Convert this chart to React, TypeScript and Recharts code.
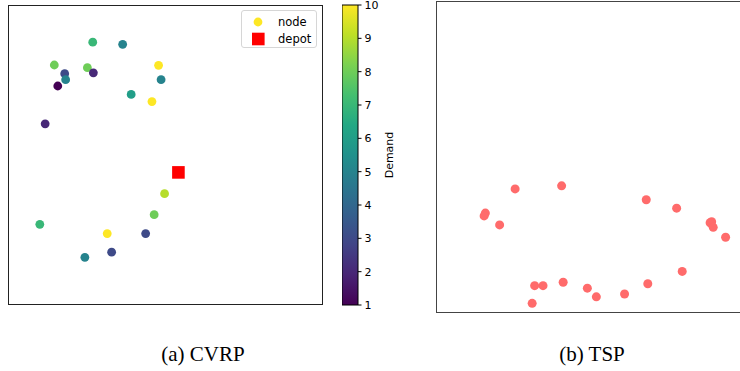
import { ScatterChart, Scatter, BarChart, Bar, XAxis, YAxis } from 'recharts'

// CVRP instance (normalised coordinates), demand per node
const cvrpX = [0.269, 0.364, 0.147, 0.252, 0.478, 0.180, 0.271, 0.183, 0.486, 0.158, 0.391, 0.457, 0.118, 0.497, 0.464, 0.101, 0.315, 0.437, 0.329, 0.244]
const cvrpY = [0.876, 0.869, 0.800, 0.791, 0.799, 0.771, 0.774, 0.751, 0.751, 0.730, 0.702, 0.678, 0.604, 0.371, 0.301, 0.269, 0.238, 0.238, 0.176, 0.159]
const demand = [7, 5, 8, 8, 10, 3, 2, 5, 5, 1, 6, 10, 2, 9, 8, 7, 10, 3, 3, 5]
const depotX = [0.541]
const depotY = [0.442]

// TSP instance
const tspX = [0.252, 0.402, 0.156, 0.152, 0.202, 0.675, 0.773, 0.886, 0.881, 0.891, 0.931, 0.791, 0.680, 0.605, 0.514, 0.485, 0.407, 0.342, 0.315, 0.307]
const tspY = [0.397, 0.407, 0.319, 0.310, 0.281, 0.362, 0.335, 0.291, 0.288, 0.273, 0.241, 0.131, 0.091, 0.058, 0.049, 0.077, 0.096, 0.085, 0.085, 0.028]

const demandTicks = [1, 2, 3, 4, 5, 6, 7, 8, 9, 10]
const legendItems = ['node', 'depot']
const captions = ['(a) CVRP', '(b) TSP']

const viridis = ['#440154', '#482475', '#414487', '#355f8d', '#2a788e', '#21918c', '#22a884', '#44bf70', '#7ad151', '#bddf26', '#fde725']

function hexToRgb(h: string) {
  return [1, 3, 5].map(i => parseInt(h.slice(i, i + 2), 16))
}

function viridisColor(v: number) {
  const t = Math.max(0, Math.min(1, (v - 1) / 9)) * 10
  const i = Math.min(9, Math.floor(t))
  const f = t - i
  const a = hexToRgb(viridis[i])
  const b = hexToRgb(viridis[i + 1])
  const c = a.map((x, k) => Math.round(x + (b[k] - x) * f))
  return `rgb(${c[0]},${c[1]},${c[2]})`
}

const nodes = cvrpX.map((x, i) => ({ x, y: cvrpY[i], demand: demand[i] }))
const depot = depotX.map((x, i) => ({ x, y: depotY[i] }))
const tspNodes = tspX.map((x, i) => ({ x, y: tspY[i] }))
const barData = [{ k: 'c', range: [demandTicks[0], demandTicks[demandTicks.length - 1]] }]

const sans = 'DejaVu Sans'

export default function App() {
  return (
    <div style={{ position: 'absolute', left: 0, top: 0, width: 740, height: 371, overflow: 'hidden', background: '#fff' }}>
      {/* CVRP scatter */}
      <div style={{ position: 'absolute', left: 8, top: 5 }}>
        <ScatterChart width={315} height={300} margin={{ top: 0, right: 0, bottom: 0, left: 0 }}>
          <XAxis type="number" dataKey="x" domain={[0, 1]} hide />
          <YAxis type="number" dataKey="y" domain={[0, 1]} hide />
          <Scatter
            data={nodes}
            isAnimationActive={false}
            shape={(p: any) => <circle cx={p.cx} cy={p.cy} r={4.4} fill={viridisColor(p.payload.demand)} />}
          />
          <Scatter
            data={depot}
            isAnimationActive={false}
            shape={(p: any) => <rect x={p.cx - 6.3} y={p.cy - 6.3} width={12.6} height={12.6} fill="#ff0000" />}
          />
        </ScatterChart>
      </div>
      <div style={{ position: 'absolute', left: 8, top: 5, width: 315, height: 300, border: '1px solid #222', boxSizing: 'border-box', pointerEvents: 'none' }} />

      {/* legend */}
      <div style={{ position: 'absolute', left: 241, top: 10, width: 76, height: 38, border: '1px solid #d6d6d6', borderRadius: 3, boxSizing: 'border-box', background: 'rgba(255,255,255,0.8)', fontFamily: sans, fontSize: 11.5, color: '#000' }}>
        {legendItems.map((name, i) => (
          <div key={name} style={{ position: 'absolute', left: 0, top: 3 + i * 17, height: 16, display: 'flex', alignItems: 'center' }}>
            <svg width={36} height={16}>
              {name === 'node'
                ? <circle cx={16} cy={8} r={4.4} fill={viridisColor(10)} />
                : <rect x={10} y={1.7} width={12.6} height={12.6} fill="#ff0000" />}
            </svg>
            <span>{name}</span>
          </div>
        ))}
      </div>

      {/* colorbar */}
      <div style={{ position: 'absolute', left: 342, top: -1 }}>
        <BarChart width={70} height={312} data={barData} margin={{ top: 6, right: 0, bottom: 6, left: 0 }} barCategoryGap={0} barGap={0}>
          <defs>
            <linearGradient id="viridisGrad" x1="0" y1="0" x2="0" y2="1">
              {viridis.slice().reverse().map((c, i) => (
                <stop key={i} offset={`${i * 10}%`} stopColor={c} />
              ))}
            </linearGradient>
          </defs>
          <XAxis dataKey="k" type="category" hide />
          <YAxis
            orientation="right"
            type="number"
            domain={[1, 10]}
            ticks={demandTicks}
            width={54}
            axisLine={false}
            tickSize={3.5}
            tickMargin={3}
            tickLine={{ stroke: '#000' }}
            tick={{ fontSize: 11, fill: '#000', fontFamily: sans }}
            label={{
              content: (props: any) => {
                const vb = props.viewBox || { x: 16, y: 6, height: 300 }
                const cx = vb.x + 31
                const cy = vb.y + vb.height / 2
                return (
                  <text x={cx} y={cy} transform={`rotate(-90, ${cx}, ${cy})`} textAnchor="middle" dominantBaseline="central" fontSize={11} fontFamily={sans} fill="#000">
                    Demand
                  </text>
                )
              },
            }}
          />
          <Bar dataKey="range" fill="url(#viridisGrad)" stroke="#000" strokeWidth={1} isAnimationActive={false} />
        </BarChart>
      </div>

      {/* TSP scatter */}
      <div style={{ position: 'absolute', left: 437, top: 2 }}>
        <ScatterChart width={310} height={310} margin={{ top: 0, right: 0, bottom: 0, left: 0 }}>
          <XAxis type="number" dataKey="x" domain={[0, 1]} hide />
          <YAxis type="number" dataKey="y" domain={[0, 1]} hide />
          <Scatter
            data={tspNodes}
            isAnimationActive={false}
            shape={(p: any) => <circle cx={p.cx} cy={p.cy} r={4.5} fill="#ff6b6b" />}
          />
        </ScatterChart>
      </div>
      <div style={{ position: 'absolute', left: 436, top: 1, width: 312, height: 312, border: '1.5px solid #444', boxSizing: 'border-box', pointerEvents: 'none' }} />

      {/* captions */}
      <svg style={{ position: 'absolute', left: 0, top: 0 }} width={740} height={371}>
        {captions.map((c, i) => (
          <text key={c} x={i === 0 ? 203 : 592} y={361} textAnchor="middle" fontFamily="Liberation Serif" fontSize={21} fill="#000">
            {c}
          </text>
        ))}
      </svg>
    </div>
  )
}
